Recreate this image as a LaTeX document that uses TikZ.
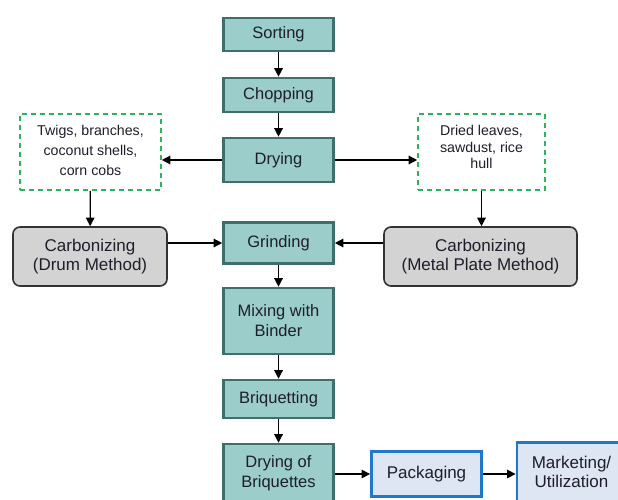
\documentclass[tikz,border=0pt]{standalone}
\usepackage{fontspec}
\setmainfont{Liberation Sans}
\usetikzlibrary{arrows.meta}
\definecolor{tealfill}{HTML}{9BCDCB}
\definecolor{tealline}{HTML}{3F6F6B}
\definecolor{grayfill}{HTML}{D3D3D3}
\definecolor{grayline}{HTML}{333333}
\definecolor{greendash}{HTML}{2DB35A}
\definecolor{bluefill}{HTML}{DDE6F2}
\definecolor{blueline}{HTML}{1E7AC8}
\definecolor{txt}{HTML}{1E1E2A}
\tikzset{
  stepbox/.style={draw=tealline, fill=tealfill, line width=2.6pt, minimum width=110pt, inner sep=0pt, align=center, text=txt, font=\fontsize{16.5}{20}\selectfont},
  srcbox/.style={draw=greendash, line width=1.6pt, dash pattern=on 5pt off 4pt, fill=white, inner sep=0pt, align=center, text=txt, font=\fontsize{14.2}{20}\selectfont},
  carbbox/.style={draw=grayline, fill=grayfill, line width=1.6pt, rounded corners=7pt, inner sep=0pt, align=center, text=txt, font=\fontsize{17}{19.5}\selectfont},
  outbox/.style={draw=blueline, fill=bluefill, line width=2.8pt, inner sep=0pt, align=center, text=txt, font=\fontsize{17}{19}\selectfont},
  arr/.style={draw=black, line width=1.3pt, -{Triangle[length=8.5pt,width=8.5pt]}}
}
\begin{document}
\begin{tikzpicture}[x=1pt,y=-1pt]
\useasboundingbox (0,0) rectangle (618,500);
\clip (0,0) rectangle (618,500);
\node[stepbox, minimum height=33pt] (sort) at (278.5,34.5) {Sorting};
\node[stepbox, minimum height=34pt] (chop) at (278.5,95) {Chopping};
\node[stepbox, minimum height=44pt] (dry) at (278.5,160) {Drying};
\node[stepbox, minimum height=41pt] (grind) at (278.5,243) {Grinding};
\node[stepbox, minimum height=66pt] (mix) at (278.5,321) {Mixing with\\Binder};
\node[stepbox, minimum height=38pt] (briq) at (278.5,399) {Briquetting};
\node[stepbox, minimum height=58pt] (dryb) at (278.5,473) {Drying of\\Briquettes};
\node[outbox, minimum width=110pt, minimum height=45pt] (pack) at (426.5,474) {Packaging};
\node[outbox, minimum width=109pt, minimum height=59pt] (mark) at (571.5,472) {Marketing/\\Utilization};
\node[srcbox, minimum width=141pt, minimum height=76pt] (lsrc) at (90.5,152) {};
\node[txt, align=center, font=\fontsize{14.2}{20}\selectfont] (ltxt) at (90.5,150) {Twigs, branches,\\coconut shells,\\corn cobs};
\node[srcbox, minimum width=127pt, minimum height=76pt] (rsrc) at (481.5,152) {};
\node[txt, align=center, font=\fontsize{14.2}{16.5}\selectfont] (rtxt) at (481.5,147) {Dried leaves,\\sawdust, rice\\hull};
\node[carbbox, minimum width=154pt, minimum height=59pt] (lcarb) at (90,256.5) {Carbonizing\\(Drum Method)};
\node[carbbox, minimum width=193pt, minimum height=59pt] (rcarb) at (480.5,256.5) {Carbonizing\\(Metal Plate Method)};
\draw[arr] (sort) -- (chop);
\draw[arr] (chop) -- (dry);
\draw[arr] (dry.west) -- (dry.west -| lsrc.east);
\draw[arr] (dry.east) -- (dry.east -| rsrc.west);
\draw[arr] (lsrc) -- (lcarb);
\draw[arr] (rsrc.south) -- (rsrc.south |- rcarb.north);
\draw[arr] (lcarb.east |- grind.west) -- (grind.west);
\draw[arr] (rcarb.west |- grind.east) -- (grind.east);
\draw[arr] (grind) -- (mix);
\draw[arr] (mix) -- (briq);
\draw[arr] (briq) -- (dryb);
\draw[arr] (dryb.east |- pack.west) -- (pack.west);
\draw[arr] (pack) -- (pack -| mark.west);
\end{tikzpicture}
\end{document}
